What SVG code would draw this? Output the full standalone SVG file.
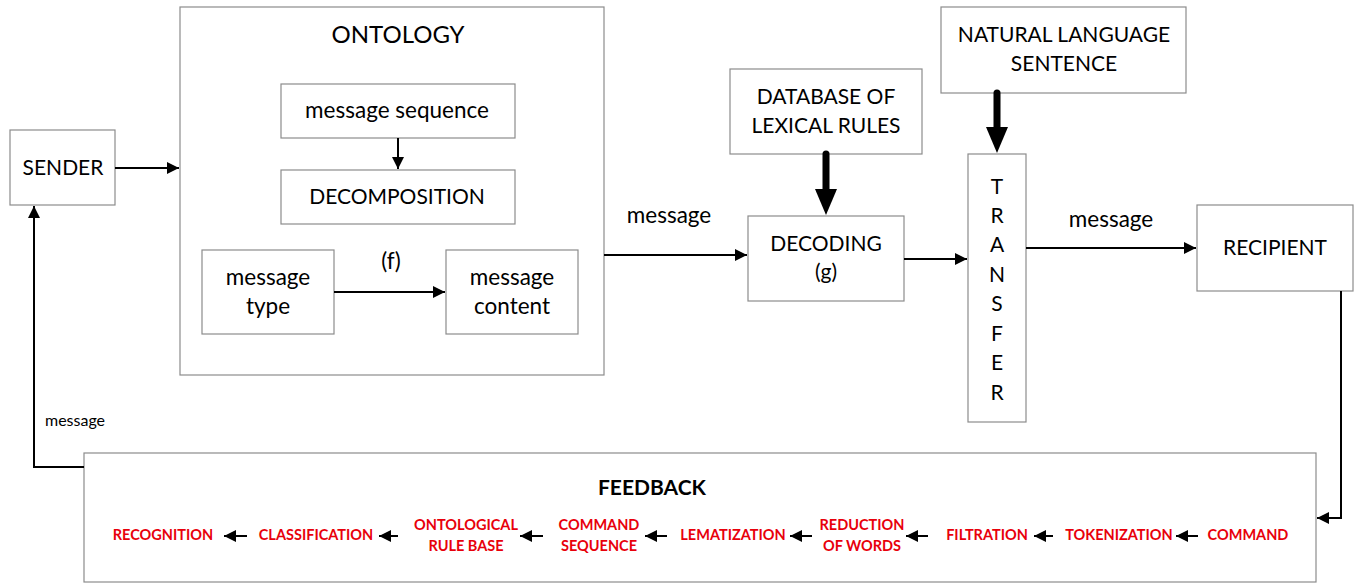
<svg xmlns="http://www.w3.org/2000/svg" width="1356" height="584" viewBox="0 0 1356 584">
<style>
.box{fill:#fff;stroke:#8c8c8c;stroke-width:1.2}
.t{font-family:Lato,"Liberation Sans",sans-serif;font-size:21px;fill:#000;text-anchor:middle}
.l{font-size:22.5px}
.r{font-family:Lato,"Liberation Sans",sans-serif;font-size:14.5px;font-weight:bold;fill:#e8000b;text-anchor:middle}
.ln{fill:none;stroke:#000;stroke-width:2}
.th{fill:none;stroke:#000;stroke-width:7;stroke-linecap:round}
</style>
<defs>
<marker id="a" viewBox="0 0 10 10" refX="10" refY="5" markerWidth="6" markerHeight="6" markerUnits="strokeWidth" orient="auto"><path d="M0,0L10,5L0,10Z" fill="#000"/></marker>
<marker id="b" viewBox="0 0 26 22" refX="1" refY="11" markerWidth="26" markerHeight="22" markerUnits="userSpaceOnUse" orient="auto"><path d="M0,0L26,11L0,22Z" fill="#000"/></marker>
</defs>
<rect width="1356" height="584" fill="#fff"/>
<g id="sender"><rect class="box" x="10" y="130" width="105" height="75"/><text class="t" x="63" y="175">SENDER</text></g>
<g id="ontology"><rect class="box" x="180" y="7" width="424" height="368"/><text class="t" x="398" y="43" style="font-size:24px">ONTOLOGY</text></g>
<g id="msgseq"><rect class="box" x="281" y="84" width="234" height="54"/><text class="t l" x="397" y="118">message sequence</text></g>
<g id="decomp"><rect class="box" x="281" y="170" width="234" height="54"/><text class="t" x="397" y="204">DECOMPOSITION</text></g>
<g id="msgtype"><rect class="box" x="202" y="250" width="132" height="84"/><text class="t l" x="268" y="285">message</text><text class="t l" x="268" y="314">type</text></g>
<g id="msgcontent"><rect class="box" x="446" y="250" width="132" height="84"/><text class="t l" x="512" y="285">message</text><text class="t l" x="512" y="314">content</text></g>
<g id="database"><rect class="box" x="730" y="69" width="192" height="85"/><text class="t" x="826" y="104">DATABASE OF</text><text class="t" x="826" y="133">LEXICAL RULES</text></g>
<g id="decoding"><rect class="box" x="748" y="216" width="156" height="85"/><text class="t" x="826" y="251">DECODING</text><text class="t" x="826" y="279">(g)</text></g>
<g id="natural"><rect class="box" x="941" y="7" width="245" height="86"/><text class="t" x="1064" y="42">NATURAL LANGUAGE</text><text class="t" x="1064" y="71">SENTENCE</text></g>
<g id="transfer"><rect class="box" x="968" y="154" width="58" height="268"/>
<text class="t" x="997" y="194">T</text><text class="t" x="997" y="223">R</text><text class="t" x="997" y="252">A</text><text class="t" x="997" y="282">N</text><text class="t" x="997" y="311">S</text><text class="t" x="997" y="341">F</text><text class="t" x="997" y="370">E</text><text class="t" x="997" y="400">R</text></g>
<g id="recipient"><rect class="box" x="1197" y="205" width="156" height="86"/><text class="t" x="1275" y="255">RECIPIENT</text></g>
<g id="feedback"><rect class="box" x="84" y="453" width="1232" height="129"/>
<text class="t" x="652" y="495" style="font-weight:bold">FEEDBACK</text>
<text class="r" x="163" y="540">RECOGNITION</text>
<text class="r" x="316" y="540">CLASSIFICATION</text>
<text class="r" x="466" y="530">ONTOLOGICAL</text><text class="r" x="466" y="551">RULE BASE</text>
<text class="r" x="599" y="530">COMMAND</text><text class="r" x="599" y="551">SEQUENCE</text>
<text class="r" x="733" y="540">LEMATIZATION</text>
<text class="r" x="862" y="530">REDUCTION</text><text class="r" x="862" y="551">OF WORDS</text>
<text class="r" x="987" y="540">FILTRATION</text>
<text class="r" x="1119" y="540">TOKENIZATION</text>
<text class="r" x="1248" y="540">COMMAND</text>
</g>
<g id="connectors">
<line class="ln" x1="115" y1="168" x2="179" y2="168" marker-end="url(#a)"/>
<line class="ln" x1="398" y1="138" x2="398" y2="169" marker-end="url(#a)"/>
<line class="ln" x1="334" y1="292" x2="445" y2="292" marker-end="url(#a)"/>
<text class="t l" x="391" y="269">(f)</text>
<line class="ln" x1="604" y1="255" x2="747" y2="255" marker-end="url(#a)"/>
<text class="t l" x="669" y="223">message</text>
<line class="th" x1="826" y1="154" x2="826" y2="190" marker-end="url(#b)"/>
<line class="th" x1="997" y1="93" x2="997" y2="128" marker-end="url(#b)"/>
<line class="ln" x1="904" y1="259" x2="967" y2="259" marker-end="url(#a)"/>
<line class="ln" x1="1026" y1="248" x2="1196" y2="248" marker-end="url(#a)"/>
<text class="t l" x="1111" y="227">message</text>
<polyline class="ln" points="1341,291 1341,518 1317,518" marker-end="url(#a)"/>
<polyline class="ln" points="84,467 34,467 34,206" marker-end="url(#a)"/>
<text class="t" x="75" y="426" style="font-size:16px">message</text>
<line class="ln" x1="247" y1="536" x2="224" y2="536" marker-end="url(#a)"/>
<line class="ln" x1="398" y1="536" x2="379" y2="536" marker-end="url(#a)"/>
<line class="ln" x1="543" y1="536" x2="520" y2="536" marker-end="url(#a)"/>
<line class="ln" x1="667" y1="536" x2="645" y2="536" marker-end="url(#a)"/>
<line class="ln" x1="812" y1="536" x2="790" y2="536" marker-end="url(#a)"/>
<line class="ln" x1="928" y1="536" x2="906" y2="536" marker-end="url(#a)"/>
<line class="ln" x1="1053" y1="536" x2="1034" y2="536" marker-end="url(#a)"/>
<line class="ln" x1="1198" y1="536" x2="1176" y2="536" marker-end="url(#a)"/>
</g>
</svg>
